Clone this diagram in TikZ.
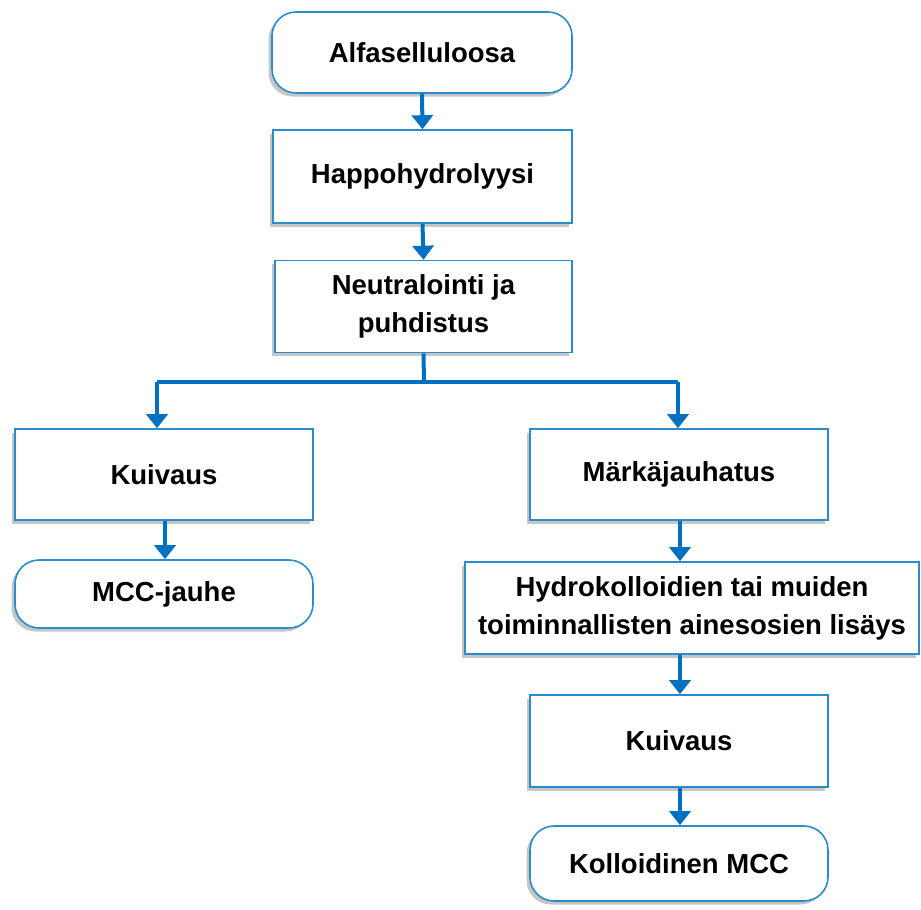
\documentclass[tikz,border=0pt]{standalone}
\usepackage{fontspec}
\setmainfont{Liberation Sans}
\usetikzlibrary{arrows.meta,shadows}
\definecolor{boxblue}{RGB}{40,140,205}
\definecolor{arrblue}{RGB}{0,112,192}
\tikzset{
  box/.style={draw=boxblue, line width=1.6pt, fill=white, inner sep=0pt,
    align=center, font=\fontsize{27.5}{38}\selectfont\bfseries,
    drop shadow={shadow xshift=-3.5pt, shadow yshift=-3.5pt, opacity=0.45, fill=gray}},
  rbox/.style={box, rounded corners=24pt},
  arr/.style={draw=arrblue, line width=4pt, -{Triangle[width=21pt,length=14pt]}},
  seg/.style={draw=arrblue, line width=4pt}
}
\begin{document}
\begin{tikzpicture}[x=1pt,y=-1pt]
\useasboundingbox (0,0) rectangle (921,910);
\node[rbox, minimum width=300pt, minimum height=81pt] (a) at (422,52.5) {Alfaselluloosa};
\node[box, minimum width=299pt, minimum height=93pt] (b) at (422.5,176.5) {Happohydrolyysi};
\node[box, minimum width=297pt, minimum height=92pt] (c) at (423.5,306.5) {Neutralointi ja\\puhdistus};
\node[box, minimum width=298pt, minimum height=91pt] (d) at (164,474.5) {Kuivaus};
\node[rbox, minimum width=298pt, minimum height=68pt] (e) at (164,594) {MCC-jauhe};
\node[box, minimum width=298pt, minimum height=91pt] (f) at (679,474.5) {Märkäjauhatus};
\node[box, minimum width=454pt, minimum height=92pt] (g) at (692,608) {Hydrokolloidien tai muiden\\toiminnallisten ainesosien lisäys};
\node[box, minimum width=298pt, minimum height=92pt] (h) at (679,741) {Kuivaus};
\node[rbox, minimum width=298pt, minimum height=75pt] (i) at (679,863.5) {Kolloidinen MCC};

\coordinate (j) at (424,382);
\coordinate (jl) at (157,382);
\coordinate (jr) at (678,382);
\draw[arr] (a.south) -- (b.north);
\draw[arr] (b.south) -- (c.north);
\draw[seg] (c.south) -- (j);
\draw[seg] (jl) -- (jr);
\draw[arr] (jl) -- (jl |- d.north);
\draw[arr] (jr) -- (jr |- f.north);
\draw[arr] (d.south -| 165,0) -- (e.north -| 165,0);
\draw[arr] (f.south -| 680,0) -- (g.north -| 680,0);
\draw[arr] (g.south -| 680,0) -- (h.north -| 680,0);
\draw[arr] (h.south -| 680,0) -- (i.north -| 680,0);
\end{tikzpicture}
\end{document}
